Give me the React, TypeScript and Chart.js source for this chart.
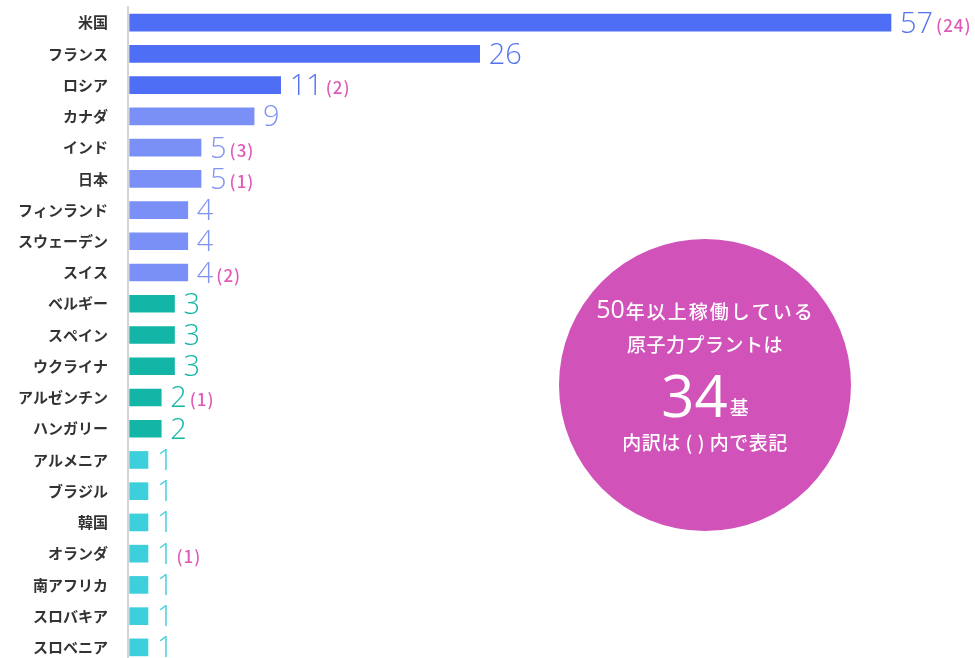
import React, { useEffect, useRef } from "react";
import { Chart, registerables } from "chart.js";

Chart.register(...registerables);

const countries = [
  "米国", "フランス", "ロシア", "カナダ", "インド", "日本", "フィンランド",
  "スウェーデン", "スイス", "ベルギー", "スペイン", "ウクライナ", "アルゼンチン",
  "ハンガリー", "アルメニア", "ブラジル", "韓国", "オランダ", "南アフリカ",
  "スロバキア", "スロベニア",
];
const counts = [57, 26, 11, 9, 5, 5, 4, 4, 4, 3, 3, 3, 2, 2, 1, 1, 1, 1, 1, 1, 1];
const over50 = [24, null, 2, null, 3, 1, null, null, 2, null, null, null, 1, null, null, null, null, 1, null, null, null];

const noteLine1Num = "50";
const noteLine1Text = "年以上稼働している";
const noteLine2 = "原子力プラントは";
const noteTotal = "34";
const noteUnit = "基";
const noteLine4 = "内訳は ( ) 内で表記";

function barColor(v: number) {
  if (v >= 10) return "#4f6ef6";
  if (v >= 4) return "#7b90f6";
  if (v >= 2) return "#12b5a6";
  return "#3ecfdc";
}
function textColor(v: number) {
  if (v >= 10) return "#5573f0";
  if (v >= 4) return "#8094f2";
  if (v >= 2) return "#16b6a8";
  return "#3ecfdc";
}

const JP = "'Noto Sans CJK JP', 'Noto Sans', sans-serif";
const NUM = "'Open Sans', 'Noto Sans', sans-serif";

const valueLabels = {
  id: "valueLabels",
  afterDatasetsDraw(chart: any) {
    const ctx = chart.ctx;
    const meta = chart.getDatasetMeta(0);
    ctx.save();
    meta.data.forEach((el: any, i: number) => {
      const v = counts[i];
      const x = el.x + 9;
      const base = el.y + 10;
      ctx.font = `300 29px ${NUM}`;
      ctx.fillStyle = textColor(v);
      ctx.textAlign = "left";
      ctx.textBaseline = "alphabetic";
      const t = String(v);
      ctx.fillText(t, x, base);
      const w = ctx.measureText(t).width;
      const p = over50[i];
      if (p !== null && p !== undefined) {
        ctx.font = `500 17px ${JP}`;
        (ctx as any).letterSpacing = "1px";
        ctx.fillStyle = "#e05ab8";
        ctx.fillText(`(${p})`, x + w + 3, base - 1);
        (ctx as any).letterSpacing = "0px";
      }
    });
    ctx.restore();
  },
};

const circleNote = {
  id: "circleNote",
  afterDraw(chart: any) {
    const ctx = chart.ctx;
    const cx = 705;
    const cy = 385;
    ctx.save();
    ctx.beginPath();
    ctx.arc(cx, cy, 146, 0, Math.PI * 2);
    ctx.fillStyle = "#d152b9";
    ctx.fill();
    ctx.fillStyle = "#ffffff";
    ctx.textBaseline = "middle";
    ctx.textAlign = "left";
    // line 1
    ctx.font = `400 25px ${NUM}`;
    const w1a = ctx.measureText(noteLine1Num).width;
    ctx.font = `500 19px ${JP}`;
    (ctx as any).letterSpacing = "2px";
    const w1b = ctx.measureText(noteLine1Text).width;
    let x = cx - (w1a + w1b) / 2;
    (ctx as any).letterSpacing = "0px";
    ctx.font = `400 25px ${NUM}`;
    ctx.fillText(noteLine1Num, x, 311);
    ctx.font = `500 19px ${JP}`;
    (ctx as any).letterSpacing = "2px";
    ctx.fillText(noteLine1Text, x + w1a + 1, 312);
    // line 2
    (ctx as any).letterSpacing = "0.5px";
    ctx.textAlign = "center";
    ctx.fillText(noteLine2, cx, 345);
    // 34 基
    (ctx as any).letterSpacing = "0px";
    ctx.textBaseline = "alphabetic";
    ctx.textAlign = "left";
    ctx.font = `400 58px ${NUM}`;
    const w3 = ctx.measureText(noteTotal).width;
    ctx.font = `500 19px ${JP}`;
    const w3b = ctx.measureText(noteUnit).width;
    x = cx - (w3 + w3b + 2) / 2;
    ctx.font = `400 58px ${NUM}`;
    ctx.fillText(noteTotal, x, 417);
    ctx.font = `500 19px ${JP}`;
    ctx.fillText(noteUnit, x + w3 + 2, 415);
    // line 4
    ctx.textBaseline = "middle";
    ctx.textAlign = "center";
    (ctx as any).letterSpacing = "0.5px";
    ctx.fillText(noteLine4, cx, 443);
    ctx.restore();
  },
};

export default function App() {
  const ref = useRef<HTMLCanvasElement>(null);
  useEffect(() => {
    if (!ref.current) return;
    const chart = new Chart(ref.current, {
      type: "bar",
      data: {
        labels: countries,
        datasets: [
          {
            data: counts,
            backgroundColor: counts.map(barColor),
            barThickness: 17,
            base: -0.38,
          } as any,
        ],
      },
      options: {
        indexAxis: "y",
        animation: false,
        responsive: false,
        maintainAspectRatio: false,
        layout: { padding: { top: 7, bottom: 2, left: 0, right: 0 } },
        plugins: { legend: { display: false }, tooltip: { enabled: false } },
        scales: {
          x: {
            display: false,
            min: -0.505,
            max: 63.33,
          },
          y: {
            grid: { display: false },
            border: { display: true, color: "#d4d4d4", width: 2 },
            ticks: {
              color: "#333333",
              font: { family: JP, size: 15, weight: "bold" },
              padding: 12,
            },
            afterFit(scale: any) {
              scale.width = 128;
              scale.paddingTop = 0;
              scale.paddingBottom = 0;
            },
          },
        },
      },
      plugins: [valueLabels, circleNote],
    });
    return () => chart.destroy();
  }, []);
  return (
    <div style={{ position: "absolute", left: 0, top: 0, width: 975, height: 658, overflow: "hidden", background: "#fff" }}>
      <canvas ref={ref} width={975} height={665} style={{ display: "block" }} />
    </div>
  );
}
